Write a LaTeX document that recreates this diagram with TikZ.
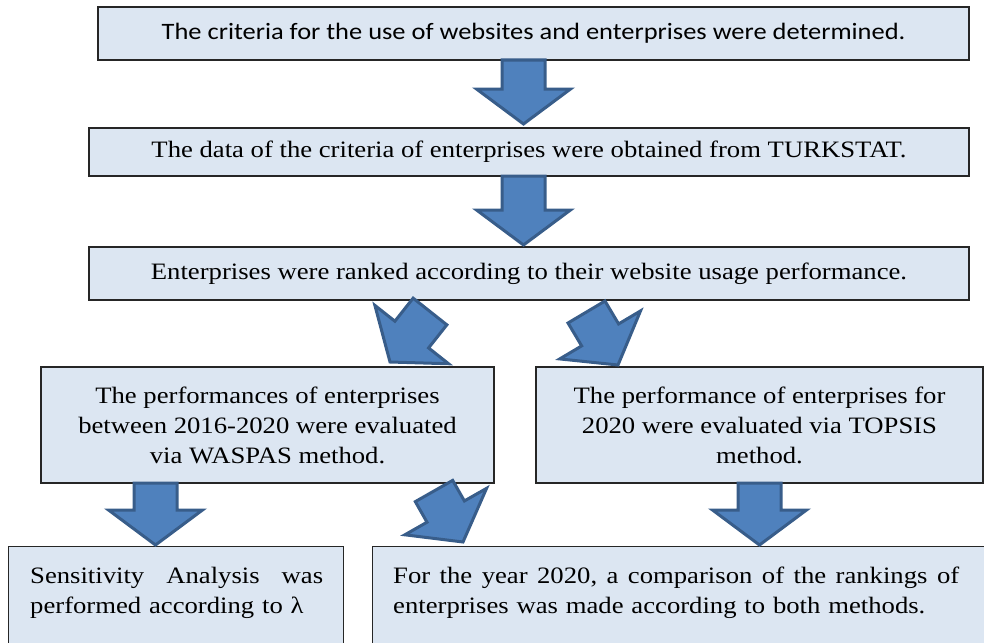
\documentclass[tikz,border=0pt]{standalone}
\usepackage{fontspec}
\setmainfont[FakeStretch=1.135]{Liberation Serif}
\newfontfamily\calib[FakeStretch=1.125]{Carlito}
\usetikzlibrary{calc}
\definecolor{boxfill}{HTML}{DCE6F2}
\definecolor{arrfill}{HTML}{4F81BD}
\definecolor{arrline}{HTML}{385D8A}
\tikzset{
  box/.style={draw=black!85, line width=1.1pt, fill=boxfill, inner sep=0pt, align=center,
    font=\fontsize{23.5}{30}\selectfont},
  boxtext/.style={inner sep=0pt, align=left, font=\fontsize{23.5}{30}\selectfont},
  blockarrow/.style={fill=arrfill, draw=arrline, line width=3pt, line join=miter},
}
\newcommand\barrow[2]{%
  \draw[blockarrow] ($(#1)!21.5pt!90:(#2)$)
    -- ($(#2)!35pt!(#1)!21.5pt!-90:(#1)$)
    -- ($(#2)!35pt!(#1)!47pt!-90:(#1)$)
    -- (#2)
    -- ($(#2)!35pt!(#1)!47pt!90:(#1)$)
    -- ($(#2)!35pt!(#1)!21.5pt!90:(#1)$)
    -- ($(#1)!21.5pt!-90:(#2)$) -- cycle;}
\begin{document}
\begin{tikzpicture}[x=1pt,y=-1pt]
\useasboundingbox (0,0) rectangle (984,642);
\clip (0,0) rectangle (984,642);
\node[box, minimum width=871, minimum height=53, font=\calib\fontsize{23.5}{30}\selectfont] (b1) at (533.5,33.5)
  {The criteria for the use of websites and enterprises were determined.};
\node[box, minimum width=880, minimum height=48] (b2) at (529,152)
  {The data of the criteria of enterprises were obtained from TURKSTAT.};
\node[box, minimum width=880, minimum height=53] (b3) at (529,273.5)
  {Enterprises were ranked according to their website usage performance.};
\node[box, minimum width=453, minimum height=116] (b4) at (267.5,425)
  {The performances of enterprises\\between 2016-2020 were evaluated\\via WASPAS method.};
\node[box, minimum width=447, minimum height=116] (b5) at (759.5,425)
  {The performance of enterprises for\\2020 were evaluated via TOPSIS\\method.};
\node[box, minimum width=335, minimum height=114, anchor=north west] (b6) at (8,546) {};
\node[box, minimum width=640, minimum height=114, anchor=north west] (b7) at (372,546) {};
\node[boxtext, anchor=base west, text width=293pt] (t6) at (30,583)
  {\hbox to 293pt{Sensitivity\hfill Analysis\hfill was}\\performed according to λ};
\node[boxtext, anchor=base west, text width=580pt] (t7) at (393,583)
  {\hbox to 566pt{For\hfill the\hfill year\hfill 2020,\hfill a\hfill comparison\hfill of\hfill the\hfill rankings\hfill of}\\enterprises was made according to both methods.};
% connectors
\coordinate (a1s) at (523.5,60);   \coordinate (a1e) at (523.5,124);
\coordinate (a2s) at (523.5,176);  \coordinate (a2e) at (523.5,245);
\coordinate (a3s) at (430,311.5);  \coordinate (a3e) at (390,362);
\coordinate (a4s) at (586.5,312);  \coordinate (a4e) at (618,365);
\coordinate (a5s) at (434,491);    \coordinate (a5e) at (463,542);
\coordinate (a6s) at (155.5,483);  \coordinate (a6e) at (155.5,545);
\coordinate (a7s) at (759.5,483);  \coordinate (a7e) at (759.5,545);
\barrow{a1s}{a1e}
\barrow{a2s}{a2e}
\barrow{a3s}{a3e}
\barrow{a4s}{a4e}
\barrow{a5s}{a5e}
\barrow{a6s}{a6e}
\barrow{a7s}{a7e}
\end{tikzpicture}
\end{document}
